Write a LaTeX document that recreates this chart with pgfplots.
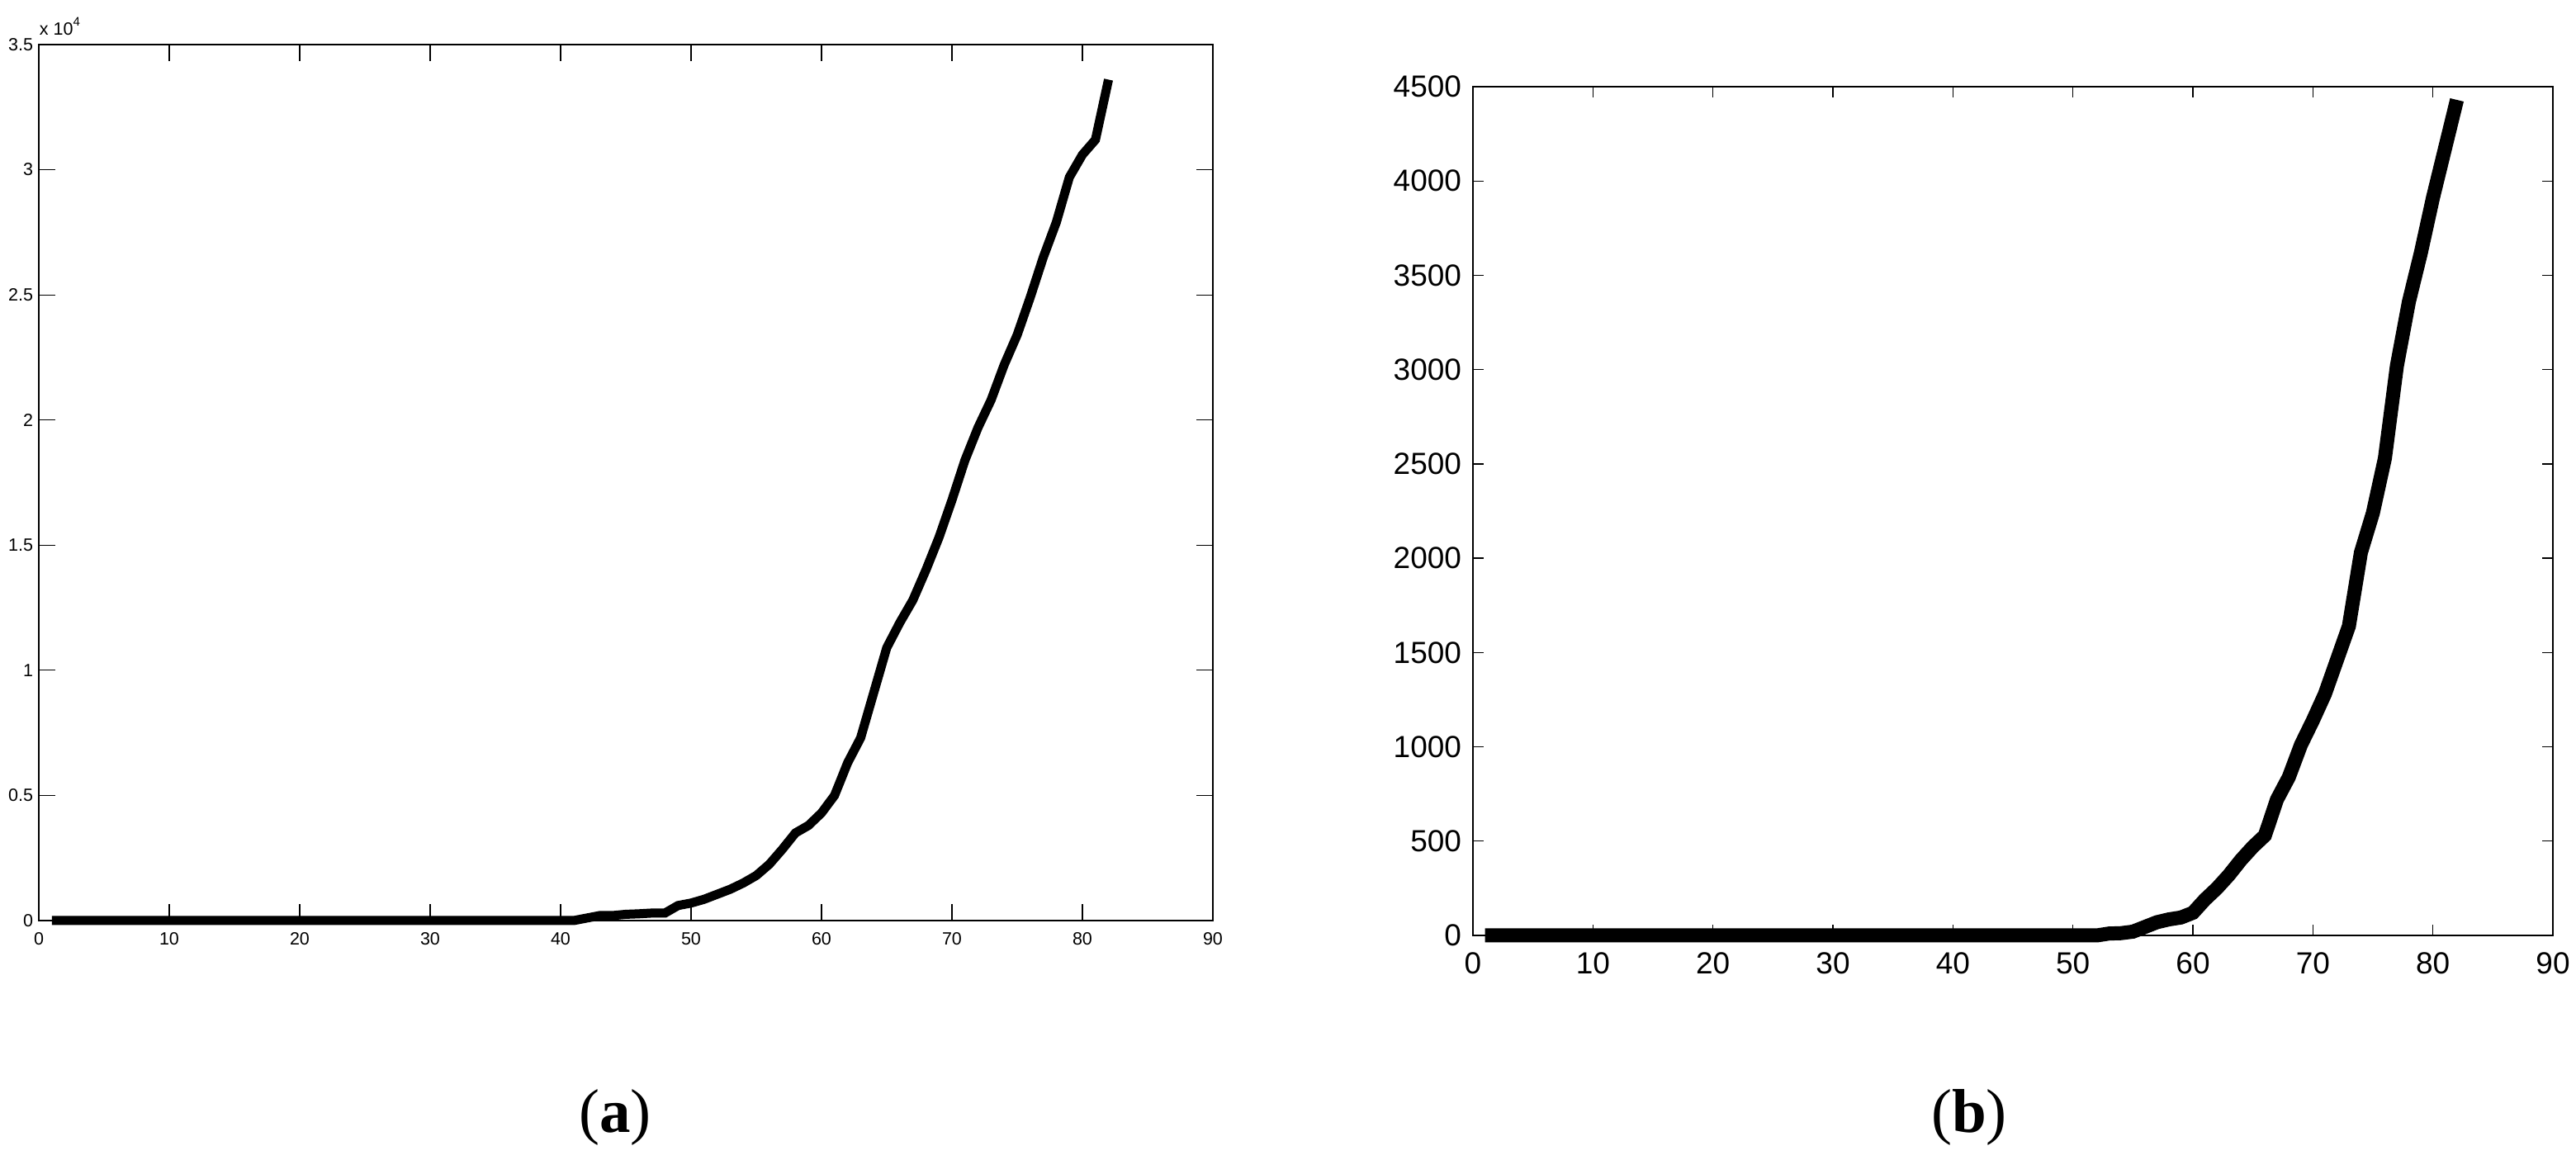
\documentclass[border=0pt]{standalone}
\usepackage{pgfplots}
\pgfplotsset{compat=1.18}
\usepackage{fontspec}
\setmainfont{Liberation Sans}
\newfontfamily\capfont{Liberation Serif}

% left panel, cumulative values (x 10^4 shown on axis)
\pgfplotstableread{
x y
1 0
40 0
41 0
42 100
43 200
44 200
45 250
46 270
47 300
48 300
49 600
50 700
51 850
52 1050
53 1250
54 1500
55 1800
56 2250
57 2850
58 3500
59 3800
60 4300
61 5000
62 6300
63 7300
64 9100
65 10900
66 11900
67 12800
68 14000
69 15300
70 16800
71 18400
72 19700
73 20800
74 22200
75 23400
76 24900
77 26500
78 27900
79 29700
80 30600
81 31200
82 33600
}\dataA

% right panel
\pgfplotstableread{
x y
1 0
52 0
53 10
54 12
55 20
56 45
57 70
58 85
59 95
60 120
61 190
62 250
63 320
64 400
65 470
66 530
67 720
68 840
69 1010
70 1140
71 1280
72 1460
73 1640
74 2030
75 2240
76 2530
77 3020
78 3360
79 3620
80 3910
81 4170
82 4430
}\dataB

\begin{document}
\begin{tikzpicture}
\useasboundingbox (0,0) rectangle (624pt,281pt);
\pgfplotsset{
  every axis/.append style={
    scale only axis, anchor=south west,
    xmin=0, xmax=90, xtick={0,10,...,90},
    axis line style={line width=0.35pt},
    tick style={line width=0.25pt, black},
    tick align=inside, tick pos=both,
    tick label style={inner sep=0pt},
    /pgf/number format/assume math mode=true,
    /pgf/number format/1000 sep={},
    scaled y ticks=false, clip=false,
  }
}

\begin{axis}[at={(9.4pt,58pt)}, width=284.4pt, height=212.2pt,
  ymin=0, ymax=35000, ytick={0,5000,...,35000},
  yticklabels={0,0.5,1,1.5,2,2.5,3,3.5},
  major tick length=4pt,
  tick label style={font=\fontsize{4.3}{5}\selectfont},
  xticklabel shift=2.6pt, yticklabel shift=1.2pt]
\addplot[black, line width=2.2pt] table {\dataA};
\node[anchor=base west, inner sep=0pt, font=\fontsize{4.3}{5}\selectfont]
  at (rel axis cs:0,1) [yshift=2.4pt] {x 10\textsuperscript{4}};
\end{axis}

\begin{axis}[at={(356.8pt,54.4pt)}, width=261.6pt, height=205.6pt,
  ymin=0, ymax=4500, ytick={0,500,...,4500},
  major tick length=2.6pt,
  tick label style={font=\fontsize{7.4}{9}\selectfont},
  xticklabel shift=4pt, yticklabel shift=2.6pt]
\addplot[black, line width=3.4pt] table {\dataB};
\end{axis}

\node[anchor=base, font=\capfont\fontsize{15}{18}\selectfont] at (149pt,6.7pt) {(\textbf{a})};
\node[anchor=base, font=\capfont\fontsize{15}{18}\selectfont] at (477pt,6.7pt) {(\textbf{b})};
\end{tikzpicture}
\end{document}
